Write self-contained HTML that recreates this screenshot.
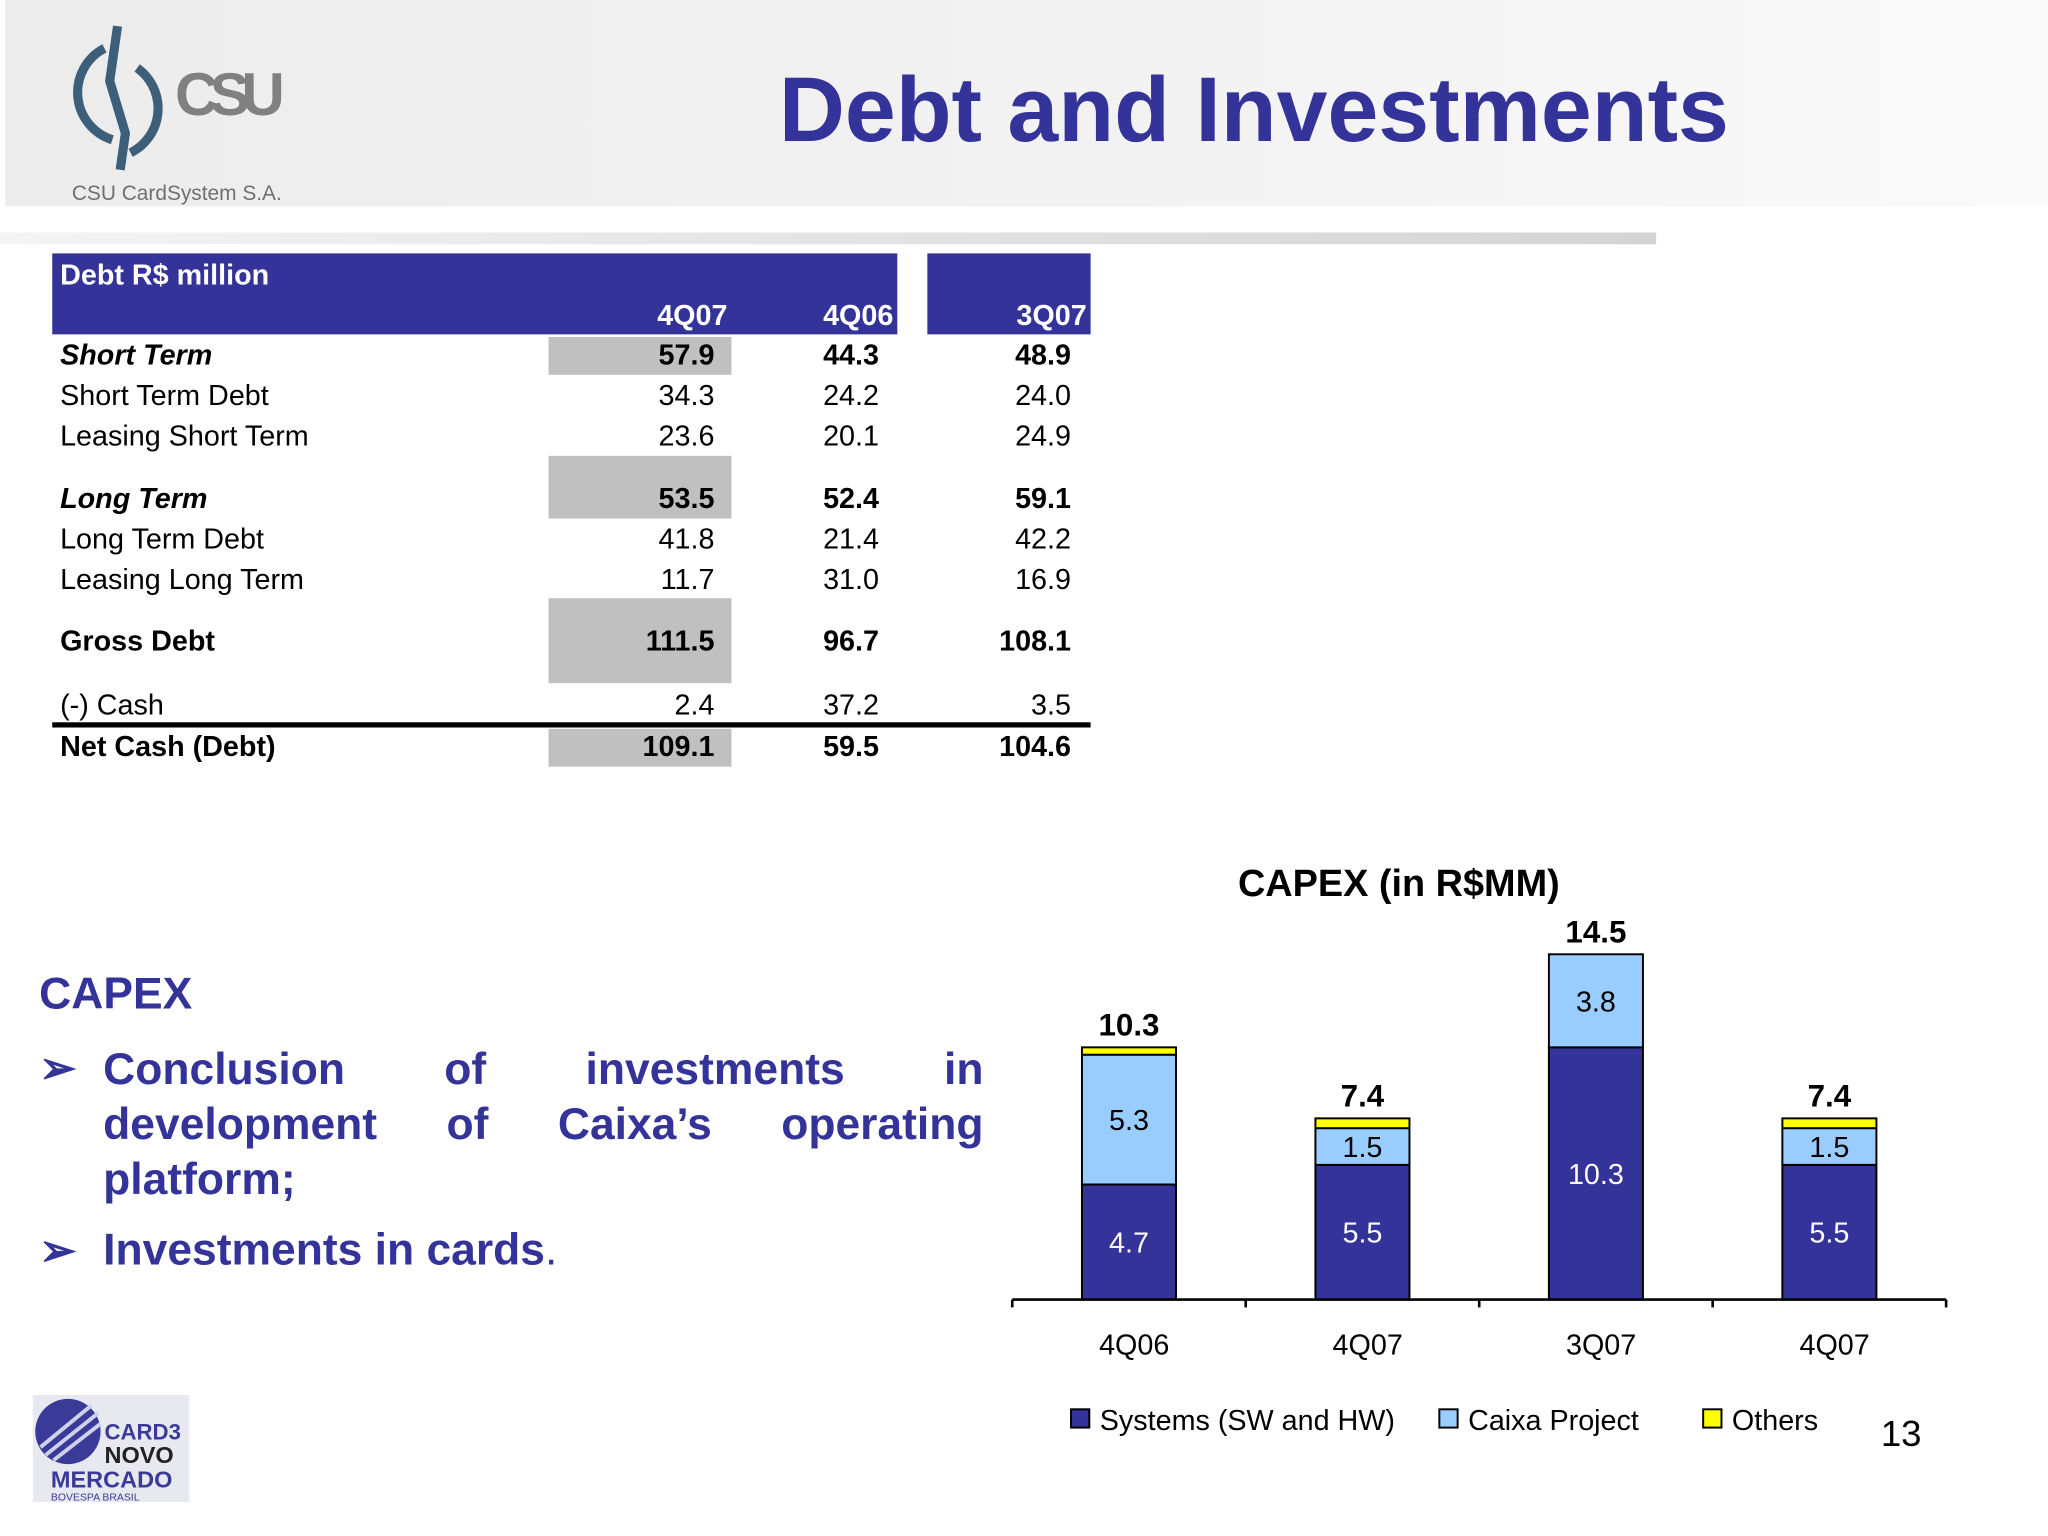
<!DOCTYPE html>
<html><head><meta charset="utf-8">
<style>
html,body{margin:0;padding:0;background:#fff;}
body{width:2048px;height:1536px;overflow:hidden;position:relative;font-family:"Liberation Sans",Arial,sans-serif;}
#stage{position:absolute;left:0;top:0;width:1568px;height:1176px;transform:scale(1.306122);transform-origin:0 0;}
.abs{position:absolute;}
.hdr{left:4px;top:0;width:1564px;height:158px;background:linear-gradient(90deg,#ececec,#f3f3f3 60%,#fafafa);}
.gline{left:0;top:178px;width:1268px;height:9px;background:linear-gradient(90deg,#f4f4f4,#d4d4d4);}
.title{left:560px;top:44px;width:800px;text-align:center;font-size:70px;font-weight:bold;color:#333399;}
.t{font-size:22px;color:#000;white-space:nowrap;}
.r{text-align:right;}
.b{font-weight:bold;}
.i{font-style:italic;}
.gray{background:#c0c0c0;}
.bul{font-size:34px;font-weight:bold;color:#333399;}
</style></head><body>
<div id="stage">
<div class="abs hdr"></div>
<div class="abs gline"></div>
<svg class="abs" style="left:50px;top:12px" width="200" height="150">
<path d="M30 25 A38 38 0 0 0 36 95" stroke="#3d5f7a" stroke-width="7" fill="none"/>
<path d="M55 40 A38 38 0 0 1 50 105" stroke="#3d5f7a" stroke-width="7" fill="none"/>
<path d="M40 8 L34 50 L46 90 L42 118" stroke="#3d5f7a" stroke-width="7" fill="none"/>
<text x="84" y="76" font-family="Liberation Sans" font-weight="bold" font-size="46" fill="#808080" textLength="84">CSU</text>
<text x="5" y="141" font-family="Liberation Sans" font-size="16" fill="#707070">CSU CardSystem S.A.</text>
</svg>
<div class="abs title">Debt and Investments</div>

<div class="abs" style="left:40px;top:194px;width:647px;height:62px;background:#333399"></div>
<div class="abs" style="left:710px;top:194px;width:125px;height:62px;background:#333399"></div>
<div class="abs t b" style="left:46px;top:198px;color:#fff">Debt R$ million</div>
<div class="abs t b r" style="left:440px;width:117px;top:229px;color:#fff">4Q07</div>
<div class="abs t b r" style="left:570px;width:114px;top:229px;color:#fff">4Q06</div>
<div class="abs t b r" style="left:710px;width:122px;top:229px;color:#fff">3Q07</div>
<div class="abs gray" style="left:420px;top:258px;width:140px;height:29px"></div>
<div class="abs gray" style="left:420px;top:349px;width:140px;height:48px"></div>
<div class="abs gray" style="left:420px;top:458px;width:140px;height:65px"></div>
<div class="abs gray" style="left:420px;top:558px;width:140px;height:29px"></div>
<div class="abs" style="left:40px;top:553px;width:795px;height:4px;background:#000"></div>
<div id="rows"></div>

<div class="abs" style="left:30px;top:742px;font-size:34px;font-weight:bold;color:#333399">CAPEX</div>
<div class="abs bul" style="left:30px;top:798px">➢</div>
<div class="abs bul" style="left:79px;top:798px;width:674px;text-align:justify;text-align-last:left;line-height:42px">Conclusion of investments in development of Caixa’s operating platform;</div>
<div class="abs bul" style="left:30px;top:938px">➢</div>
<div class="abs bul" style="left:79px;top:938px">Investments in cards<span style="font-weight:normal">.</span></div>

<svg class="abs" style="left:0;top:0" width="1568" height="1176" id="chart"></svg>

<div class="abs" style="left:1440px;top:1082px;font-size:28px">13</div>
<svg class="abs" style="left:25px;top:1068px" width="122" height="84">
<rect x="0" y="0" width="120" height="82" fill="#e8e8f0"/>
<circle cx="27" cy="28" r="25" fill="#3a3a99"/>
<path d="M6 40 L45 8 M10 46 L50 14 M16 50 L52 22" stroke="#cfd0ea" stroke-width="3"/>
<text x="55" y="34" font-family="Liberation Sans" font-weight="bold" font-size="17" fill="#3a3a99">CARD3</text>
<text x="55" y="52" font-family="Liberation Sans" font-weight="bold" font-size="18" fill="#222">NOVO</text>
<text x="14" y="71" font-family="Liberation Sans" font-weight="bold" font-size="18" fill="#3a3a99">MERCADO</text>
<text x="14" y="81" font-family="Liberation Sans" font-size="8" fill="#3a3a99">BOVESPA  BRASIL</text>
</svg>
</div>
<script>
var rowLabels=["Short Term","Short Term Debt","Leasing Short Term","Long Term","Long Term Debt","Leasing Long Term","Gross Debt","(-) Cash","Net Cash (Debt)"];
var v4Q07=["57.9","34.3","23.6","53.5","41.8","11.7","111.5","2.4","109.1"];
var v4Q06=["44.3","24.2","20.1","52.4","21.4","31.0","96.7","37.2","59.5"];
var v3Q07=["48.9","24.0","24.9","59.1","42.2","16.9","108.1","3.5","104.6"];
var rowY=[272,303,334,382,413,444,491,540,572];
var rowStyle=["bi","","","bi","","","b","","b"];
var rows=document.getElementById('rows');
function cell(txt,l,w,y,cls,right,name){
  var d=document.createElement('div');
  d.className='abs t '+cls+(right?' r':'');
  d.style.left=l+'px';d.style.top=(y-13)+'px';
  if(w)d.style.width=w+'px';
  d.textContent=txt;
  
  
  rows.appendChild(d);
}
for(var i=0;i<rowLabels.length;i++){
  var c=rowStyle[i]==='bi'?'b i':(rowStyle[i]==='b'?'b':'');
  var vc=rowStyle[i]?'b':'';
  cell(rowLabels[i],46,0,rowY[i],c,false,'row-label');
  cell(v4Q07[i],440,107,rowY[i],vc,true,'value-4q07');
  cell(v4Q06[i],560,113,rowY[i],vc,true,'value-4q06');
  cell(v3Q07[i],700,120,rowY[i],vc,true,'value-3q07');
}
var categories=["4Q06","4Q07","3Q07","4Q07"];
var systems=[4.7,5.5,10.3,5.5];
var caixa=[5.3,1.5,3.8,1.5];
var others=[0.3,0.4,0,0.4];
var totals=["10.3","7.4","14.5","7.4"];
var svg=document.getElementById('chart');
var NS='http://www.w3.org/2000/svg';
var x0=775,x1=1490,base=995,pxPer=18.75,bw=72;
var slot=(x1-x0)/categories.length;
function xc(i){return x0+slot*(i+0.5);}
function yv(v){return base-v*pxPer;}
function el(tag,attrs){var e=document.createElementNS(NS,tag);for(var k in attrs)e.setAttribute(k,attrs[k]);svg.appendChild(e);return e;}
function txt(s,x,y,size,fill,weight){var t=el('text',{x:x,y:y,'font-family':'Liberation Sans, Arial, sans-serif','font-size':size,fill:fill,'text-anchor':'middle','font-weight':weight||'normal'});t.textContent=s;return t;}
var t=txt("CAPEX (in R$MM)",1071,686,29,"#000","bold");


for(var i=0;i<categories.length;i++){
  var cx=xc(i),l=cx-bw/2,acc=0;
  var segs=[[systems[i],'#333399','bar-systems'],[caixa[i],'#99ccff','bar-caixa'],[others[i],'#ffff00','bar-others']];
  for(var s=0;s<3;s++){
    var v=segs[s][0];
    if(v>0){
      var r=el('rect',{x:l,y:yv(acc+v),width:bw,height:v*pxPer,fill:segs[s][1],stroke:'#000','stroke-width':1.5});
      
      
    }
    acc+=v;
  }
  var a=txt(String(systems[i]),cx,yv(systems[i]/2)+8,22,'#fff');
  
  
  var b=txt(String(caixa[i]),cx,yv(systems[i]+caixa[i]/2)+8,22,'#000');
  
  
  var tt=txt(totals[i],cx,yv(acc)-9,24,'#000','bold');
  
  
  var cl=txt(categories[i],cx+4,1037,22,'#000');
  
  
}
var ax=el('line',{x1:x0,y1:base,x2:x1,y2:base,stroke:'#000','stroke-width':2});


for(var k=0;k<=categories.length;k++){
  var tk=el('line',{x1:x0+slot*k,y1:base,x2:x0+slot*k,y2:base+6,stroke:'#000','stroke-width':2});
  
  
}
var legend=[["Systems (SW and HW)",'#333399',820],["Caixa Project",'#99ccff',1102],["Others",'#ffff00',1304]];
for(var j=0;j<legend.length;j++){
  var sw=el('rect',{x:legend[j][2],y:1079,width:14,height:14,fill:legend[j][1],stroke:'#000','stroke-width':1.5});
  
  
  var lt=el('text',{x:legend[j][2]+22,y:1095,'font-family':'Liberation Sans, Arial, sans-serif','font-size':22,fill:'#000'});
  lt.textContent=legend[j][0];
  
  
}
</script>
</body></html>
